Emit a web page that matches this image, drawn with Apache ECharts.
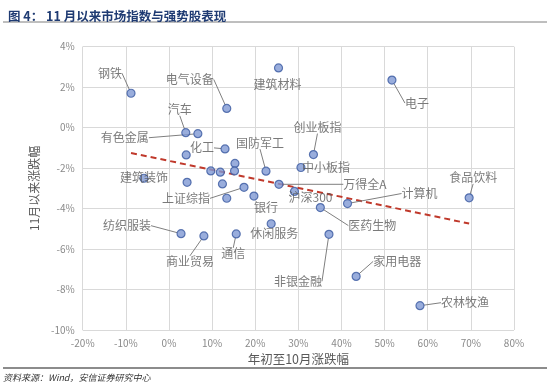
<!DOCTYPE html>
<html><head><meta charset="utf-8">
<script src="https://cdn.jsdelivr.net/npm/echarts@6/dist/echarts.min.js"></script>
<style>html,body{margin:0;padding:0;background:#fff}#c{width:550px;height:391px}</style>
</head><body><div id="c"></div>
<script>
// ---- data ----
const names = ['钢铁','电气设备','建筑材料','电子','汽车','有色金属','','化工','','','','','国防军工','建筑装饰','','','上证综指','','银行','万得全A','沪深300','中小板指','创业板指','医药生物','计算机','非银金融','休闲服务','纺织服装','商业贸易','通信','食品饮料','家用电器','农林牧渔'];
const xValues = [-8.8,13.4,25.4,51.7,3.9,6.7,4.0,13.0,15.3,9.7,11.9,15.2,22.5,-5.8,4.2,12.4,17.4,13.4,19.7,25.5,29.1,30.6,33.5,35.1,41.4,37.1,23.7,2.8,8.1,15.6,69.6,43.4,58.2];
const yValues = [1.7,0.95,2.95,2.35,-0.25,-0.3,-1.35,-1.05,-1.77,-2.14,-2.2,-2.14,-2.15,-2.5,-2.7,-2.78,-2.95,-3.49,-3.38,-2.8,-3.15,-1.97,-1.33,-3.95,-3.75,-5.27,-4.75,-5.24,-5.35,-5.25,-3.47,-7.35,-8.8];
const trendX = [-8.8, 69.6];
const trendY = [-1.25, -4.74];
const xTicks = {min:-20, max:80, step:10};
const yTicks = {min:-10, max:4, step:2};

// ---- label placement (styling) ----
const labelOffsets = {
  '钢铁':[-21,-20],'电气设备':[-37,-29],'建筑材料':[-1,16],'电子':[25,23],'汽车':[-6,-23],
  '有色金属':[-73,4],'化工':[-23,-1],'国防军工':[-6,-28],'建筑装饰':[0,-1],'上证综指':[-58,11],
  '银行':[12,11],'万得全A':[86,0],'沪深300':[16,6],'中小板指':[25,0],'创业板指':[4,-27],
  '医药生物':[52,18],'计算机':[72,-10],'非银金融':[-31,47],'休闲服务':[3,10],'纺织服装':[-54,-8],
  '商业贸易':[-14,26],'通信':[-3,20],'食品饮料':[4,-20],'家用电器':[41,-15],'农林牧渔':[45,-3]
};
const noLine = new Set(['建筑材料','建筑装饰','中小板指','休闲服务','沪深300','银行']);

const pts = names.map((n,i)=>({
  name:n, value:[xValues[i], yValues[i]],
  label:{show: n !== ''},
  labelLine:{show: n !== '' && !noLine.has(n)}
}));

const chart = echarts.init(document.getElementById('c'));
const font = '"Noto Sans CJK SC", "Noto Sans", sans-serif';
chart.setOption({
  animation:false,
  title:{text:'图 4： 11 月以来市场指数与强势股表现', left:3, top:5,
    textStyle:{fontSize:12.5, fontWeight:'bold', color:'#1f3b73', fontFamily:font}},
  grid:{left:82.7, right:36, top:46.7, bottom:61},
  xAxis:{type:'value', min:xTicks.min, max:xTicks.max, interval:xTicks.step,
    name:'年初至10月涨跌幅', nameLocation:'middle', nameGap:20,
    nameTextStyle:{fontSize:12.5, color:'#595959', fontFamily:font},
    axisLine:{show:false}, axisTick:{show:false},
    axisLabel:{formatter:'{value}%', fontSize:10, color:'#8a8a8a', margin:8, fontFamily:font},
    splitLine:{show:true, lineStyle:{color:'#d9d9d9', width:1}}},
  yAxis:{type:'value', min:yTicks.min, max:yTicks.max, interval:yTicks.step,
    name:'11月以来涨跌幅', nameLocation:'middle', nameGap:39, nameRotate:90,
    nameTextStyle:{fontSize:12, color:'#595959', fontFamily:font},
    axisLine:{show:false}, axisTick:{show:false},
    axisLabel:{formatter:'{value}%', fontSize:10, color:'#8a8a8a', margin:8, fontFamily:font},
    splitLine:{show:true, lineStyle:{color:'#d9d9d9', width:1}}},
  series:[
    {type:'line', data:trendX.map((x,i)=>[x,trendY[i]]), symbol:'none', z:3,
     lineStyle:{color:'#c0392b', width:2, type:[6,4]}, silent:true},
    {type:'scatter', data:pts, symbolSize:8, z:4,
     itemStyle:{color:'#7f98d3', borderColor:'#3b5aa0', borderWidth:1.2},
     label:{show:true, position:'inside', formatter:p=>p.name, fontSize:12, color:'#595959', fontFamily:font},
     labelLine:{show:true, lineStyle:{color:'#7f7f7f', width:1}},
     labelLayout:function(p){
       const o = labelOffsets[names[p.dataIndex]] || [0,0];
       return {dx:o[0], dy:o[1], hideOverlap:false};
     }}
  ],
  graphic:[
    {type:'line', shape:{x1:3,y1:22,x2:547,y2:22}, style:{stroke:'#7f7f7f', lineWidth:1}},
    {type:'line', shape:{x1:3,y1:368,x2:547,y2:368}, style:{stroke:'#666', lineWidth:1.5}},
    {type:'text', left:3, top:373, style:{text:'资料来源：Wind，安信证券研究中心', fontSize:9, fontStyle:'italic', fill:'#333', fontFamily:font}}
  ]
});
</script></body></html>
